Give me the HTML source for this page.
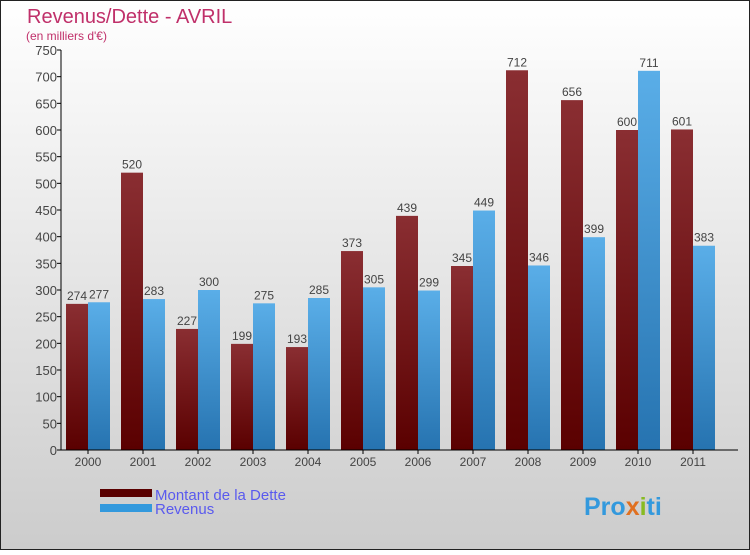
<!DOCTYPE html>
<html><head><meta charset="utf-8"><style>
body{margin:0;width:750px;height:550px;overflow:hidden;font-family:"Liberation Sans",sans-serif}
</style></head><body>
<svg id="c" width="750" height="550" xmlns="http://www.w3.org/2000/svg">
<defs>
<linearGradient id="bg" x1="0" y1="0" x2="0" y2="1"><stop offset="0" stop-color="#ffffff"/><stop offset="1" stop-color="#cccccc"/></linearGradient>
<linearGradient id="gd" x1="0" y1="0" x2="0" y2="1"><stop offset="0" stop-color="#8a2e32"/><stop offset="1" stop-color="#5a0000"/></linearGradient>
<linearGradient id="gr" x1="0" y1="0" x2="0" y2="1"><stop offset="0" stop-color="#5aaee8"/><stop offset="1" stop-color="#2673b0"/></linearGradient>
</defs>
<rect x="0.5" y="0.5" width="749" height="549" fill="url(#bg)" stroke="#222"/>
<text x="27" y="23" font-size="20" fill="#c0306a">Revenus/Dette - AVRIL</text>
<text x="26" y="40" font-size="12" fill="#c0306a">(en milliers d'€)</text>
<g id="plot"></g>
<rect x="100" y="489" width="52" height="8" fill="#5a0000"/>
<text x="155" y="500" font-size="15" fill="#5a5aee">Montant de la Dette</text>
<rect x="100" y="504" width="52" height="8" fill="#3399dd"/>
<text x="155" y="514" font-size="15" fill="#5a5aee">Revenus</text>
<text x="584" y="515" font-size="25" font-weight="bold" fill="#3399dd">Pro<tspan fill="#e07020">x</tspan><tspan fill="#88bb22">i</tspan>ti</text>
</svg>
<script>
const years=["2000","2001","2002","2003","2004","2005","2006","2007","2008","2009","2010","2011"];
const dette=[274,520,227,199,193,373,439,345,712,656,600,601];
const revenus=[277,283,300,275,285,305,299,449,346,399,711,383];
const ticks=[0,50,100,150,200,250,300,350,400,450,500,550,600,650,700,750];
const NS="http://www.w3.org/2000/svg";
const g=document.getElementById('plot');
const x0=61,x1=738,yTop=50,yBot=450,max=750;
const gw=55;
const y=v=>yBot-v/max*(yBot-yTop);
function mk(t,a){const e=document.createElementNS(NS,t);for(const k in a)e.setAttribute(k,a[k]);g.appendChild(e);return e;}
ticks.forEach(t=>{
 const l=mk('line',{x1:x0-4,x2:x0,y1:y(t),y2:y(t),stroke:'#000'});
 
 
 const tx=mk('text',{x:x0-4,y:y(t)+5,'text-anchor':'end','font-size':13,fill:'#444'});
 tx.textContent=t;
 
 
});
years.forEach((yr,i)=>{
 const gx=x0+i*gw;
 const bw=22;
 const bx=gx+5;
 const b1=mk('rect',{x:bx,y:y(dette[i]),width:bw,height:yBot-y(dette[i]),fill:'url(#gd)'});
 
 
 const b2=mk('rect',{x:bx+bw,y:y(revenus[i]),width:bw,height:yBot-y(revenus[i]),fill:'url(#gr)'});
 
 
 const t1=mk('text',{x:bx+bw/2,y:y(dette[i])-4,'text-anchor':'middle','font-size':12,fill:'#444'});
 t1.textContent=dette[i];
 
 
 const t2=mk('text',{x:bx+bw*1.5,y:y(revenus[i])-4,'text-anchor':'middle','font-size':12,fill:'#444'});
 t2.textContent=revenus[i];
 
 
 const tk=mk('line',{x1:bx+bw,x2:bx+bw,y1:yBot,y2:yBot+4,stroke:'#000'});
 
 
 const xl=mk('text',{x:bx+bw,y:yBot+16,'text-anchor':'middle','font-size':12,fill:'#444'});
 xl.textContent=yr;
 
 
});
const ax=mk('line',{x1:x0,x2:x0,y1:yTop,y2:yBot,stroke:'#000'});


const axx=mk('line',{x1:x0,x2:x1,y1:yBot,y2:yBot,stroke:'#000'});


</script>
</body></html>
